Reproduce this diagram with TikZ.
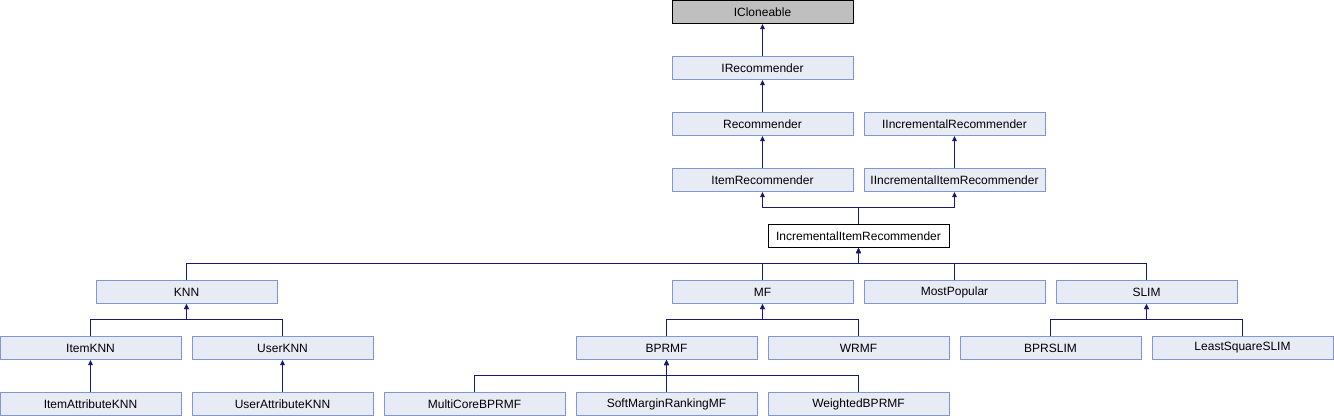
\documentclass[tikz,border=0pt]{standalone}
\usepackage{fontspec}
\setmainfont{Liberation Sans}
\usepackage{tikz}
\usetikzlibrary{arrows.meta}
\definecolor{linie}{HTML}{191970}
\definecolor{kfill}{HTML}{E7EBF5}
\definecolor{krand}{HTML}{7F99CF}
\definecolor{wgrau}{HTML}{BFBFBF}
\tikzset{
  klasse/.style={draw=krand,fill=kfill,line width=0.75pt,minimum width=135.75pt,minimum height=17.25pt,inner sep=0pt,font=\fontsize{9}{10}\selectfont},
  wurzel/.style={klasse,draw=black,fill=wgrau},
  aktuell/.style={klasse,draw=black,fill=white},
  erbt/.style={-{Triangle[length=3.8pt,width=3.4pt]},linie,line width=0.75pt},
}
\begin{document}
\begin{tikzpicture}[x=0.75pt,y=-0.75pt]
  \useasboundingbox (0,0) rectangle (1334,416);
  % --- Schnittstellen und Basisklassen ---
  \node[wurzel] (icl) at (762.5,12) {ICloneable};
  \node[klasse] (irec) at (762.5,68) {IRecommender};
  \node[klasse] (rec) at (762.5,124) {Recommender};
  \node[klasse] (iincr) at (954.5,124) {IIncrementalRecommender};
  \node[klasse] (itemrec) at (762.5,180) {ItemRecommender};
  \node[klasse] (iincritem) at (954.5,180) {IIncrementalItemRecommender};
  \node[aktuell] (incritem) at (858.5,236) {IncrementalItemRecommender};
  % --- Ableitungen ---
  \node[klasse] (knn) at (186.5,292) {KNN};
  \node[klasse] (mf) at (762.5,292) {MF};
  \node[klasse] (mostpop) at (954.5,292) {MostPopular};
  \node[klasse] (slim) at (1146.5,292) {SLIM};
  \node[klasse] (itemknn) at (90.5,348) {ItemKNN};
  \node[klasse] (userknn) at (282.5,348) {UserKNN};
  \node[klasse] (bprmf) at (666.5,348) {BPRMF};
  \node[klasse] (wrmf) at (858.5,348) {WRMF};
  \node[klasse] (bprslim) at (1050.5,348) {BPRSLIM};
  \node[klasse] (lsslim) at (1242.5,348) {LeastSquareSLIM};
  \node[klasse] (itemattr) at (90.5,404) {ItemAttributeKNN};
  \node[klasse] (userattr) at (282.5,404) {UserAttributeKNN};
  \node[klasse] (mcbprmf) at (474.5,404) {MultiCoreBPRMF};
  \node[klasse] (softmf) at (666.5,404) {SoftMarginRankingMF};
  \node[klasse] (wbprmf) at (858.5,404) {WeightedBPRMF};
  % --- Vererbung: gerade ---
  \draw[erbt] (irec) -- (icl);
  \draw[erbt] (rec) -- (irec);
  \draw[erbt] (itemrec) -- (rec);
  \draw[erbt] (iincritem) -- (iincr);
  \draw[erbt] (itemattr) -- (itemknn);
  \draw[erbt] (userattr) -- (userknn);
  % --- Vererbung: ueber Sammelschiene ---
  \foreach \eltern in {itemrec,iincritem}
    \draw[erbt] (incritem.north) -- ++(0,-16.5) -| (\eltern.south);
  \foreach \kind in {knn,mf,mostpop,slim}
    \draw[erbt] (\kind.north) -- ++(0,-16.5) -| (incritem.south);
  \foreach \kind in {itemknn,userknn}
    \draw[erbt] (\kind.north) -- ++(0,-16.5) -| (knn.south);
  \foreach \kind in {bprmf,wrmf}
    \draw[erbt] (\kind.north) -- ++(0,-16.5) -| (mf.south);
  \foreach \kind in {bprslim,lsslim}
    \draw[erbt] (\kind.north) -- ++(0,-16.5) -| (slim.south);
  \foreach \kind in {mcbprmf,softmf,wbprmf}
    \draw[erbt] (\kind.north) -- ++(0,-16.5) -| (bprmf.south);
\end{tikzpicture}
\end{document}
